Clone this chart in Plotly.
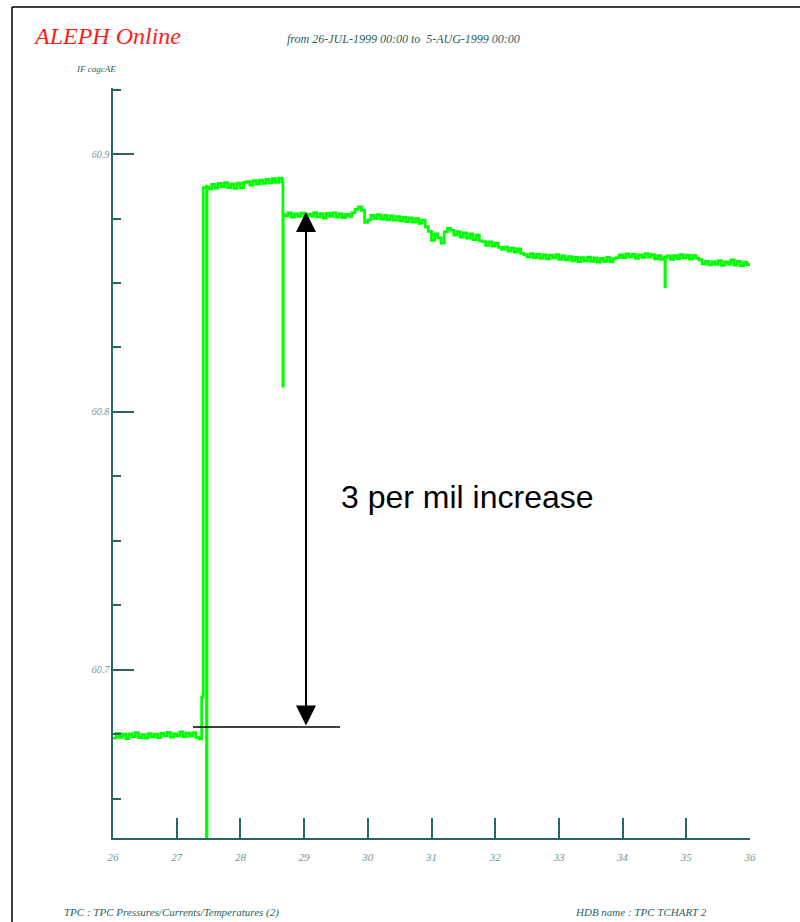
import plotly.graph_objects as go

# ---- data (day of July 1999, value) ----
days_a = [26.00, 26.05, 26.10, 26.15, 26.20, 26.25, 26.30, 26.35, 26.40, 26.45, 26.50, 26.55, 26.60, 26.65,
          26.70, 26.75, 26.80, 26.85, 26.90, 26.95, 27.00, 27.05, 27.10, 27.15, 27.20, 27.25, 27.30, 27.35, 27.39]
vals_a = [60.6736, 60.6754, 60.6739, 60.6751, 60.6734, 60.6752, 60.6742, 60.6757, 60.6738, 60.6749, 60.6736,
          60.6753, 60.6741, 60.6751, 60.6738, 60.6754, 60.6745, 60.6758, 60.6740, 60.6752, 60.6745, 60.6760,
          60.6742, 60.6755, 60.6744, 60.6757, 60.6739, 60.6733, 60.6740]

days_jump = [27.392, 27.414, 27.416, 27.465, 27.468, 27.474, 27.476]
vals_jump = [60.6895, 60.6895, 60.8870, 60.8875, 60.6000, 60.6000, 60.8872]

days_b = [27.50, 27.55, 27.60, 27.65, 27.70, 27.75, 27.80, 27.85, 27.90, 27.95, 28.00, 28.05, 28.10, 28.15,
          28.20, 28.25, 28.30, 28.35, 28.40, 28.45, 28.50, 28.55, 28.60, 28.65, 28.665, 28.668, 28.672]
vals_b = [60.8865, 60.8882, 60.8868, 60.8886, 60.8874, 60.8889, 60.8870, 60.8883, 60.8867, 60.8887, 60.8870,
          60.8890, 60.8893, 60.8879, 60.8897, 60.8884, 60.8899, 60.8886, 60.8902, 60.8888, 60.8904, 60.8890,
          60.8906, 60.8893, 60.8899, 60.8100, 60.8765]

days_c = [28.70, 28.75, 28.80, 28.85, 28.90, 28.95, 29.00, 29.05, 29.10, 29.15, 29.20, 29.25, 29.30, 29.35,
          29.40, 29.45, 29.50, 29.55, 29.60, 29.65, 29.70, 29.75, 29.80, 29.85, 29.90, 29.95, 30.00, 30.05,
          30.10, 30.15, 30.20, 30.25, 30.30, 30.35, 30.40, 30.45, 30.50, 30.55, 30.60, 30.65, 30.70, 30.75,
          30.80, 30.85, 30.90, 30.95, 31.00, 31.05, 31.10, 31.15, 31.20, 31.25, 31.30, 31.35, 31.40, 31.45,
          31.50, 31.55, 31.60, 31.65, 31.70, 31.75, 31.80, 31.85, 31.90, 31.95, 32.00, 32.05, 32.10, 32.15,
          32.20, 32.25, 32.30, 32.35, 32.40, 32.45, 32.50, 32.55, 32.60, 32.65, 32.70, 32.75, 32.80, 32.85,
          32.90, 32.95, 33.00, 33.05, 33.10, 33.15, 33.20, 33.25, 33.30, 33.35, 33.40, 33.45, 33.50, 33.55,
          33.60, 33.65, 33.70, 33.75, 33.80, 33.85, 33.90, 33.95, 34.00, 34.05, 34.10, 34.15, 34.20, 34.25,
          34.30, 34.35, 34.40, 34.45, 34.50, 34.55, 34.60, 34.65, 34.665, 34.67, 34.70, 34.75, 34.80, 34.85,
          34.90, 34.95, 35.00, 35.05, 35.10, 35.15, 35.20, 35.25, 35.30, 35.35, 35.40, 35.45, 35.50, 35.55,
          35.60, 35.65, 35.70, 35.75, 35.80, 35.85, 35.90, 35.95, 36.00]
vals_c = [60.8760, 60.8772, 60.8755, 60.8768, 60.8758, 60.8771, 60.8754, 60.8767, 60.8759, 60.8773, 60.8756,
          60.8769, 60.8752, 60.8770, 60.8758, 60.8772, 60.8755, 60.8768, 60.8753, 60.8766, 60.8758, 60.8773,
          60.8785, 60.8795, 60.8782, 60.8735, 60.8745, 60.8762, 60.8750, 60.8765, 60.8748, 60.8762, 60.8745,
          60.8760, 60.8744, 60.8757, 60.8741, 60.8754, 60.8738, 60.8752, 60.8736, 60.8749, 60.8731, 60.8744,
          60.8718, 60.8700, 60.8665, 60.8690, 60.8675, 60.8655, 60.8698, 60.8712, 60.8704, 60.8686, 60.8699,
          60.8678, 60.8694, 60.8674, 60.8690, 60.8668, 60.8685, 60.8663, 60.8660, 60.8646, 60.8659, 60.8643,
          60.8654, 60.8638, 60.8630, 60.8639, 60.8624, 60.8635, 60.8620, 60.8632, 60.8615, 60.8610, 60.8601,
          60.8614, 60.8598, 60.8611, 60.8596, 60.8609, 60.8594, 60.8608, 60.8597, 60.8610, 60.8592, 60.8605,
          60.8590, 60.8602, 60.8586, 60.8599, 60.8583, 60.8598, 60.8586, 60.8600, 60.8584, 60.8597, 60.8581,
          60.8595, 60.8584, 60.8599, 60.8582, 60.8594, 60.8598, 60.8609, 60.8598, 60.8613, 60.8601, 60.8611,
          60.8596, 60.8609, 60.8599, 60.8614, 60.8600, 60.8610, 60.8594, 60.8606, 60.8592, 60.8600, 60.8485,
          60.8598, 60.8605, 60.8592, 60.8606, 60.8595, 60.8610, 60.8597, 60.8608, 60.8593, 60.8606, 60.8596,
          60.8590, 60.8574, 60.8584, 60.8570, 60.8583, 60.8572, 60.8587, 60.8568, 60.8582, 60.8573, 60.8590,
          60.8569, 60.8584, 60.8567, 60.8581, 60.8571, 60.8578]

days = days_a + days_jump + days_b + days_c
vals = vals_a + vals_jump + vals_b + vals_c

x_range = [26, 36]
y_range = [60.63488, 60.92558]
x_ticks = [26, 27, 28, 29, 30, 31, 32, 33, 34, 35, 36]
y_ticks = [60.7, 60.8, 60.9]

# annotation geometry (data units)
arrow_x = 29.03
arrow_top = 60.8775
arrow_bottom = 60.6779
ref_line_x = [27.256, 29.564]

AX = "#2a6464"
LBL = "#6a9999"
TXT = "#2d5f5f"
SERIF = "Liberation Serif, Times New Roman, serif"

# plot area in pixels: x 113..750, y 88..838
L, R, T, B = 113, 750, 88, 838
W, H = 800, 922
def px(x):
    return (x - L) / (R - L)
def py(y):
    return (B - y) / (B - T)

fig = go.Figure()
fig.add_trace(go.Scatter(x=days, y=vals, mode="lines",
                         line=dict(color="#00ff00", width=2.8, shape="hv"), hoverinfo="skip", showlegend=False))

fig.update_layout(
    width=W, height=H,
    margin=dict(l=L, r=W - R, t=T, b=H - B, pad=0),
    paper_bgcolor="white", plot_bgcolor="white",
    showlegend=False,
    xaxis=dict(range=x_range, tickvals=x_ticks, ticktext=[str(v) for v in x_ticks],
               showgrid=False, zeroline=False, showline=True, linecolor=AX, linewidth=1.5,
               ticks="inside", ticklen=20, tickwidth=1.5, tickcolor=AX, ticklabelstandoff=8,
               tickfont=dict(family=SERIF, size=11, color=LBL, style="italic")),
    yaxis=dict(range=y_range, tickvals=y_ticks, ticktext=["60.7", "60.8", "60.9"],
               showgrid=False, zeroline=False, showline=True, linecolor=AX, linewidth=1.5,
               ticks="inside", ticklen=21, tickwidth=1.5, tickcolor=AX,
               minor=dict(dtick=0.025, tick0=60.7, ticks="inside", ticklen=8, tickwidth=1.5, tickcolor=AX,
                          showgrid=False),
               tickfont=dict(family=SERIF, size=10, color=LBL, style="italic")),
)

shapes = [
    # page frame (top and left)
    dict(type="line", xref="paper", yref="paper", x0=px(12), x1=px(800), y0=py(7), y1=py(7),
         line=dict(color="black", width=1.5)),
    dict(type="line", xref="paper", yref="paper", x0=px(12), x1=px(12), y0=py(7), y1=py(922),
         line=dict(color="black", width=1.5)),
    # baseline reference line
    dict(type="line", xref="x", yref="y", x0=ref_line_x[0], x1=ref_line_x[1], y0=arrow_bottom, y1=arrow_bottom,
         line=dict(color="black", width=1.5)),
]
fig.update_layout(shapes=shapes)

ann = [
    dict(text="ALEPH Online", xref="paper", yref="paper", x=px(31), y=py(36), xanchor="left", yanchor="middle",
         showarrow=False, font=dict(family=SERIF, size=24, color="#ff1a1a", style="italic")),
    dict(text="from 26-JUL-1999 00:00 to  5-AUG-1999 00:00", xref="paper", yref="paper", x=px(285), y=py(39),
         xanchor="left", yanchor="middle", showarrow=False,
         font=dict(family=SERIF, size=12, color=TXT, style="italic")),
    dict(text="IF cagcAE", xref="paper", yref="paper", x=px(74), y=py(69), xanchor="left", yanchor="middle",
         showarrow=False, font=dict(family=SERIF, size=9, color=TXT, style="italic")),
    dict(text="TPC : TPC Pressures/Currents/Temperatures (2)", xref="paper", yref="paper", x=px(62), y=py(912),
         xanchor="left", yanchor="middle", showarrow=False,
         font=dict(family=SERIF, size=11, color=TXT, style="italic")),
    dict(text="HDB name : TPC TCHART 2", xref="paper", yref="paper", x=px(573), y=py(912),
         xanchor="left", yanchor="middle", showarrow=False,
         font=dict(family=SERIF, size=11, color=TXT, style="italic")),
    dict(text="3 per mil increase", xref="x", yref="y", x=31.57, y=60.767, xanchor="center", yanchor="middle",
         showarrow=False, font=dict(family="Liberation Sans, Arial, sans-serif", size=32, color="black")),
    dict(text="", xref="x", yref="y", x=arrow_x, y=arrow_top, axref="x", ayref="y", ax=arrow_x, ay=arrow_bottom,
         showarrow=True, arrowhead=2, startarrowhead=2, arrowside="end+start", arrowwidth=2,
         arrowsize=2, startarrowsize=2, arrowcolor="black", standoff=0, startstandoff=0),
]
fig.update_layout(annotations=ann)

fig.write_html("out.html", config={"displayModeBar": False},
               post_script="document.body.style.margin='0';document.body.style.overflow='hidden';")
